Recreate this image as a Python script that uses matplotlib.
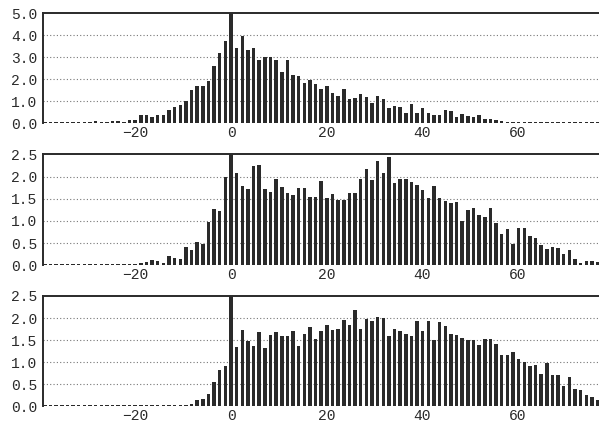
import numpy as np
import matplotlib
matplotlib.use("Agg")
import matplotlib.pyplot as plt

# bin index (0 = the spike), bin width in x units
bins = np.arange(-33, 66)
BIN_W = 1.18

# heights per bin (left of zero, then zero and right)
top_left = [0.04, 0.04, 0.05, 0.05, 0.06, 0.05, 0.05, 0.05, 0.06, 0.10, 0.08,
            0.07, 0.10, 0.10, 0.07, 0.14, 0.15, 0.38, 0.36, 0.30, 0.36, 0.38,
            0.62, 0.75, 0.85, 1.00, 1.50, 1.70, 1.70, 1.93, 2.60, 3.20, 3.75]
top_right = [5.0, 3.40, 3.97, 3.33, 3.41, 2.87, 3.03, 3.01, 2.88, 2.35, 2.86,
             2.20, 2.17, 1.82, 1.97, 1.79, 1.55, 1.70, 1.36, 1.25, 1.56, 1.10,
             1.14, 1.32, 1.21, 0.94, 1.24, 1.09, 0.71, 0.79, 0.76, 0.48, 0.86,
             0.48, 0.68, 0.48, 0.38, 0.38, 0.60, 0.58, 0.27, 0.41, 0.35, 0.30,
             0.36, 0.18, 0.18, 0.15, 0.09, 0.07, 0.07, 0.07, 0.07, 0.06, 0.05,
             0.05, 0.04, 0.04, 0.04, 0.04, 0.04, 0.04, 0.04, 0.04, 0.04, 0.04]

mid_left = [0.025, 0.025, 0.025, 0.025, 0.025, 0.025, 0.025, 0.025, 0.025,
            0.025, 0.025, 0.035, 0.025, 0.025, 0.03, 0.03, 0.035, 0.045, 0.08,
            0.12, 0.10, 0.06, 0.20, 0.16, 0.14, 0.42, 0.34, 0.53, 0.48, 0.98,
            1.26, 1.22, 1.98]
mid_right = [2.5, 2.09, 1.79, 1.72, 2.24, 2.25, 1.71, 1.65, 1.95, 1.76, 1.64,
             1.58, 1.75, 1.75, 1.53, 1.55, 1.90, 1.51, 1.60, 1.46, 1.47, 1.64,
             1.64, 1.94, 2.17, 1.92, 2.36, 2.07, 2.45, 1.85, 1.94, 1.94, 1.87,
             1.81, 1.70, 1.52, 1.79, 1.52, 1.45, 1.40, 1.43, 1.00, 1.25, 1.28,
             1.13, 1.08, 1.28, 0.96, 0.70, 0.81, 0.49, 0.83, 0.83, 0.67, 0.61,
             0.46, 0.37, 0.41, 0.40, 0.26, 0.34, 0.14, 0.06, 0.10, 0.09, 0.08]

bot_left = [0.025, 0.025, 0.025, 0.025, 0.025, 0.025, 0.025, 0.025, 0.025,
            0.025, 0.025, 0.025, 0.025, 0.025, 0.025, 0.025, 0.025, 0.025,
            0.025, 0.025, 0.025, 0.03, 0.03, 0.035, 0.035, 0.04, 0.06, 0.14,
            0.17, 0.29, 0.55, 0.82, 0.91]
bot_right = [2.5, 1.34, 1.72, 1.49, 1.37, 1.68, 1.31, 1.62, 1.68, 1.59, 1.59,
             1.71, 1.37, 1.63, 1.80, 1.52, 1.70, 1.85, 1.73, 1.75, 1.95, 1.85,
             2.18, 1.75, 1.98, 1.94, 2.02, 1.99, 1.59, 1.75, 1.71, 1.64, 1.59,
             1.93, 1.71, 1.94, 1.51, 1.91, 1.81, 1.64, 1.61, 1.55, 1.51, 1.50,
             1.40, 1.53, 1.53, 1.41, 1.16, 1.16, 1.22, 1.08, 1.00, 0.92, 0.94,
             0.73, 0.98, 0.71, 0.70, 0.45, 0.67, 0.39, 0.37, 0.26, 0.22, 0.14]

panels = [
    (top_left + top_right, 5.0, [0, 1, 2, 3, 4, 5]),
    (mid_left + mid_right, 2.5, [0, 0.5, 1.0, 1.5, 2.0, 2.5]),
    (bot_left + bot_right, 2.5, [0, 0.5, 1.0, 1.5, 2.0, 2.5]),
]
xticks = [-20, 0, 20, 40, 60]

FONT = "Liberation Mono"
INK = "#2a2a2a"

fig = plt.figure(figsize=(5.99, 4.22), dpi=100)
boxes = [(0.0713, 0.7078, 0.9287, 0.2607),
         (0.0713, 0.3713, 0.9287, 0.2630),
         (0.0713, 0.0372, 0.9287, 0.2614)]

x = bins * BIN_W
for (vals, ymax, yt), box in zip(panels, boxes):
    ax = fig.add_axes(box)
    ax.bar(x, vals, width=0.62 * BIN_W, color=INK, linewidth=0, zorder=2)
    ax.set_xlim(-39.4, 77.0)
    ax.set_ylim(0, ymax)
    ax.set_yticks(yt)
    ax.set_yticklabels([f"{v:.1f}" for v in yt])
    ax.set_xticks(xticks)
    ax.set_xticklabels([f"\u2212{-t}" if t < 0 else str(t) for t in xticks])
    ax.tick_params(length=0, labelsize=10.5, colors=INK)
    ax.tick_params(axis="y", pad=4)
    ax.tick_params(axis="x", pad=2)
    for lab in ax.get_xticklabels() + ax.get_yticklabels():
        lab.set_fontfamily(FONT)
    for v in yt[1:-1]:
        ax.axhline(v, color="#777777", linestyle=(0, (1, 2)), linewidth=0.8, zorder=1)
    ax.spines["right"].set_visible(False)
    ax.spines["bottom"].set_visible(False)
    ax.spines["top"].set_linewidth(1.4)
    ax.spines["left"].set_linewidth(1.4)
    ax.spines["top"].set_color(INK)
    ax.spines["left"].set_color(INK)

fig.savefig("out.png", dpi=100)
